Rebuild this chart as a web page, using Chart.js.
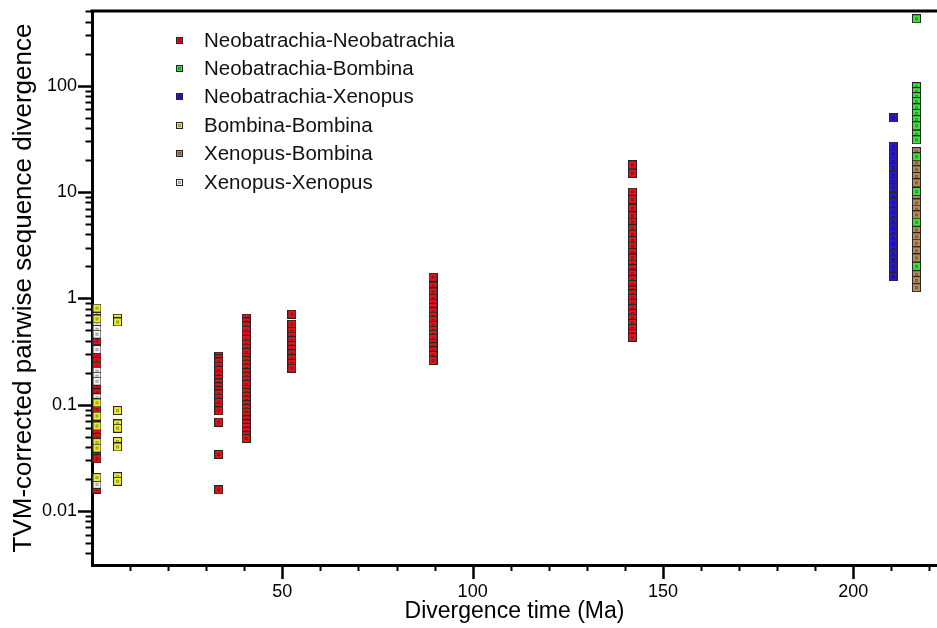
<!DOCTYPE html>
<html>
<head>
<meta charset="utf-8">
<script src="https://cdn.jsdelivr.net/npm/chart.js@4/dist/chart.umd.min.js"></script>
<style>
html,body{margin:0;padding:0;background:#fff;}
#wrap{width:937px;height:628px;position:relative;}
</style>
</head>
<body>
<div id="wrap"><canvas id="c"></canvas></div>
<script>
// ---------- data ----------
const seriesLabels = ['Neobatrachia-Neobatrachia','Neobatrachia-Bombina','Neobatrachia-Xenopus','Bombina-Bombina','Xenopus-Bombina','Xenopus-Xenopus'];
const xMajorTicks = [50, 100, 150, 200];
const yMajorTicks = [0.01, 0.1, 1, 10, 100];

// divergence times (Ma) of the columns
const tRecent = 1.3, tBomb = 6.7, t33 = 33.3, t40 = 40.5, t52 = 52.5, t90 = 89.6, t142 = 142, tXen = 210.5, tBombNeo = 216.6;

// Neobatrachia-Neobatrachia
const nnAtRecent = [0.40, 0.286, 0.256, 0.23, 0.144, 0.129, 0.090, 0.070, 0.054, 0.049, 0.034, 0.031, 0.016];
const nnAt33 = [0.286, 0.27, 0.252, 0.23, 0.21, 0.19, 0.173, 0.16, 0.147, 0.135, 0.126, 0.115, 0.105, 0.095, 0.0875, 0.0684, 0.034, 0.0158];
const nnAt40 = [0.65, 0.6, 0.55, 0.5, 0.45, 0.41, 0.37, 0.34, 0.31, 0.28, 0.26, 0.24, 0.22, 0.2, 0.185, 0.17, 0.155, 0.14, 0.13, 0.12, 0.11, 0.1, 0.092, 0.085, 0.078, 0.072, 0.066, 0.061, 0.056, 0.051, 0.048];
const nnAt52 = [0.71, 0.57, 0.49, 0.44, 0.40, 0.36, 0.33, 0.30, 0.27, 0.245, 0.22];
const nnAt90 = [1.58, 1.3, 1.15, 1.0, 0.9, 0.82, 0.75, 0.68, 0.62, 0.56, 0.5, 0.46, 0.42, 0.38, 0.35, 0.32, 0.29, 0.26];
const nnAt142 = [18, 15, 10, 8.5, 7, 6, 5.2, 4.5, 4, 3.5, 3.1, 2.7, 2.4, 2.1, 1.9, 1.7, 1.5, 1.35, 1.2, 1.1, 1.0, 0.9, 0.8, 0.72, 0.65, 0.58, 0.52, 0.47, 0.43];
// Neobatrachia-Bombina
const nbValues = [427, 98, 88, 79, 71, 62, 55, 48, 42, 35, 31, 21.5, 10.1, 5.2, 2.0];
// Neobatrachia-Xenopus
const nxValues = [50, 27, 23, 19.5, 17, 14.5, 12.5, 11, 10, 9, 8, 7.2, 6.5, 5.8, 5.2, 4.6, 4.1, 3.7, 3.3, 2.9, 2.6, 2.3, 2.0, 1.8, 1.6];
// Bombina-Bombina
const bbAtRecent = [0.81, 0.64, 0.104, 0.078, 0.063, 0.044, 0.039, 0.0206];
const bbAtBomb = [0.65, 0.60, 0.088, 0.066, 0.060, 0.045, 0.040, 0.021, 0.019];
// Xenopus-Bombina
const xbValues = [39, 24, 18.9, 16.2, 14, 12.2, 9.5, 7.9, 6.9, 6.1, 4.4, 3.8, 3.3, 2.8, 2.4, 1.85, 1.67, 1.47, 1.26];
// Xenopus-Xenopus
const xxAtRecent = [0.73, 0.59, 0.51, 0.46, 0.33, 0.206, 0.185, 0.166, 0.116, 0.0178];

const seriesColors = ['#e3141c', '#3fe23c', '#2c17d6', '#ecec36', '#b68b5a', '#f2f2f2'];

// ---------- helpers ----------
function col(t, arr) { return arr.map(v => ({x: t, y: v})); }
function marker(fill, size) {
  const c = document.createElement('canvas');
  c.width = size; c.height = size;
  const g = c.getContext('2d');
  g.fillStyle = fill; g.fillRect(0, 0, size, size);
  g.strokeStyle = '#262626'; g.lineWidth = 1;
  g.strokeRect(0.5, 0.5, size - 1, size - 1);
  const m = Math.floor(size / 2) - 1;
  g.strokeStyle = 'rgba(0,0,0,0.35)';
  g.strokeRect(m + 0.5, m + 0.5, 2, 2);
  return c;
}

const pointData = [
  [].concat(col(tRecent, nnAtRecent), col(t33, nnAt33), col(t40, nnAt40), col(t52, nnAt52), col(t90, nnAt90), col(t142, nnAt142)),
  col(tBombNeo, nbValues),
  col(tXen, nxValues),
  [].concat(col(tRecent, bbAtRecent), col(tBomb, bbAtBomb)),
  col(tBombNeo, xbValues),
  col(tRecent, xxAtRecent)
];

const datasets = seriesLabels.map((lab, i) => ({
  label: lab,
  data: pointData[i],
  pointStyle: marker(seriesColors[i], 9),
  legendMarker: marker(seriesColors[i], 7),
  pointRadius: 4.5,
  backgroundColor: seriesColors[i],
  borderColor: '#262626',
  showLine: false
}));
const order = [0, 4, 1, 2, 5, 3];
datasets.forEach((d, i) => { d.order = -order.indexOf(i); });

const sans = "'Liberation Sans', Arial, Helvetica, sans-serif";

// custom tick marks and frame
const framePlugin = {
  id: 'frame',
  afterDraw(chart) {
    const {ctx, chartArea: a, scales: {x, y}} = chart;
    ctx.save();
    ctx.strokeStyle = '#000';
    ctx.lineWidth = 3;
    ctx.beginPath(); ctx.moveTo(a.left - 1.5, a.top); ctx.lineTo(a.right, a.top); ctx.stroke();
    for (let e = -3; e <= 2; e++) {
      for (let m = 1; m <= 9; m++) {
        const v = m * Math.pow(10, e);
        if (v < y.min || v > y.max) continue;
        const py = Math.round(y.getPixelForValue(v)) + 0.5;
        const len = m === 1 ? 14 : 6.5;
        ctx.lineWidth = m === 1 ? 2.5 : 2;
        ctx.beginPath(); ctx.moveTo(a.left - len, py); ctx.lineTo(a.left, py); ctx.stroke();
      }
    }
    for (let v = 10; v <= x.max; v += 10) {
      const px = Math.round(x.getPixelForValue(v)) + 0.5;
      const major = v % 50 === 0;
      const len = major ? 14 : 6;
      ctx.lineWidth = major ? 2.5 : 2;
      ctx.beginPath(); ctx.moveTo(px, a.bottom); ctx.lineTo(px, a.bottom + len); ctx.stroke();
    }
    ctx.restore();
  }
};

const legendPlugin = {
  id: 'insideLegend',
  afterDraw(chart) {
    const {ctx} = chart;
    ctx.save();
    ctx.font = "20.5px " + sans;
    ctx.fillStyle = '#111';
    ctx.textBaseline = 'middle';
    ctx.textAlign = 'left';
    chart.data.datasets.forEach((d, i) => {
      const yy = 40 + i * 28.4;
      ctx.drawImage(d.legendMarker, 176, Math.round(yy - 3.5));
      ctx.fillText(d.label, 204, yy + 1);
    });
    ctx.restore();
  }
};

new Chart(document.getElementById('c'), {
  type: 'scatter',
  data: {datasets},
  plugins: [framePlugin, legendPlugin],
  options: {
    responsive: true,
    maintainAspectRatio: false,
    animation: false,
    layout: {autoPadding: false, padding: {top: 11, right: 0, left: 0, bottom: 0}},
    plugins: {legend: {display: false}, tooltip: {enabled: false}},
    scales: {
      x: {
        type: 'linear',
        min: 0, max: 222,
        grid: {display: false, drawTicks: false},
        border: {display: true, color: '#000', width: 3},
        afterBuildTicks: s => { s.ticks = xMajorTicks.map(v => ({value: v})); },
        afterFit: s => { s.height = 63; s.paddingLeft = 0; s.paddingRight = 0; },
        ticks: {color: '#000', font: {family: sans, size: 18}, padding: 16, maxRotation: 0, autoSkip: false},
        title: {display: true, text: 'Divergence time (Ma)', color: '#000', font: {family: sans, size: 23}, padding: {top: 0, bottom: 3}}
      },
      y: {
        type: 'logarithmic',
        min: 0.0031, max: 505,
        grid: {display: false, drawTicks: false},
        border: {display: true, color: '#000', width: 3},
        afterBuildTicks: s => { s.ticks = yMajorTicks.map(v => ({value: v})); },
        afterFit: s => { s.width = 92; s.paddingTop = 0; s.paddingBottom = 0; },
        ticks: {color: '#000', font: {family: sans, size: 18}, padding: 15, autoSkip: false,
          callback: v => String(v)},
        title: {display: true, text: 'TVM-corrected pairwise sequence divergence', color: '#000', font: {family: sans, size: 26}, padding: {top: 8, bottom: 0}}
      }
    }
  }
});
</script>
</body>
</html>
